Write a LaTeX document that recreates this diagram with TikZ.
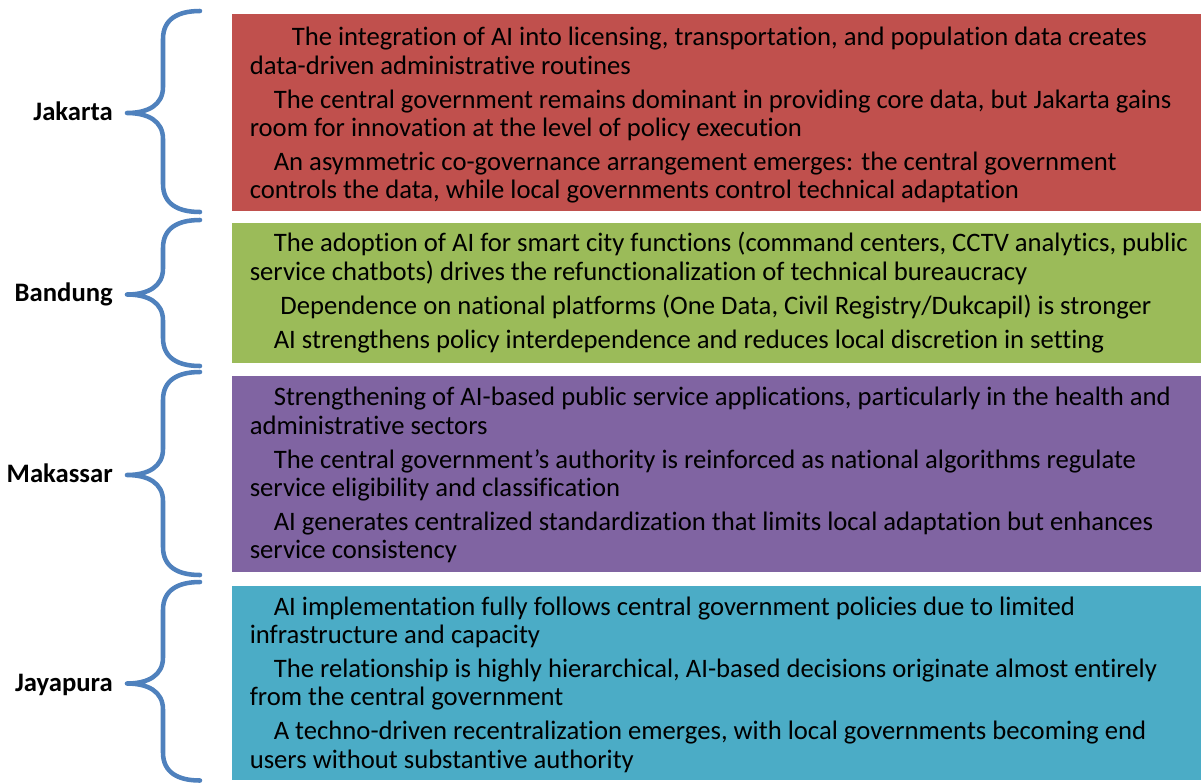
\documentclass[tikz,border=0pt]{standalone}
\usepackage{fontspec}
\setmainfont{Carlito}[Ligatures={NoCommon,NoContextual,NoRequired},Contextuals=NoAlternate]
\begin{document}
\begin{tikzpicture}[x=0.75pt,y=0.75pt,yscale=-1,xscale=1,
    bracket/.style={color={rgb, 255:red, 79; green, 129; blue, 189}, line width=3.4pt, line cap=round, line join=round},
    cityname/.style={anchor=base east, inner sep=0pt, font=\fontsize{20}{24}\selectfont\bfseries},
    points/.style={anchor=north west, inner sep=0pt, align=left, font=\fontsize{20}{21.2}\selectfont}]
    \useasboundingbox (0,0) rectangle (1201,782);
    % coloured panels
    \fill [fill={rgb, 255:red, 192; green, 80; blue, 77}] (232,14) rectangle (1201,211);
    \fill [fill={rgb, 255:red, 155; green, 187; blue, 89}] (232,223.3) rectangle (1201,362.7);
    \fill [fill={rgb, 255:red, 128; green, 100; blue, 162}] (232,376.3) rectangle (1201,571.7);
    \fill [fill={rgb, 255:red, 75; green, 172; blue, 198}] (232,586) rectangle (1201,780);
    % curly brackets
    \foreach \btop/\bmid/\bbot in {11/113/212, 220/294.5/366, 372/475/575, 582/683.5/780.5}
        \draw [bracket] (200,\btop) .. controls (178,\btop) and (163,\btop+8) .. (163,\btop+28) -- (163,\bmid-26) .. controls (163,\bmid-8) and (148,\bmid) .. (127,\bmid) .. controls (148,\bmid) and (163,\bmid+8) .. (163,\bmid+26) -- (163,\bbot-28) .. controls (163,\bbot-8) and (178,\bbot) .. (200,\bbot);
    % city names
    \node [cityname] (jakarta) at (113,120.5) {Jakarta};
    \node [cityname] (bandung) at (113,301.7) {Bandung};
    \node [cityname] (makassar) at (113,482.7) {Makassar};
    \node [cityname] (jayapura) at (113,691.5) {Jayapura};
    % findings per city
    \node [points] (jakartapts) at (249.5,19) {\rule{0pt}{20pt}\hspace*{31.5pt}The integration of AI into licensing, transportation, and population data creates\\data-driven administrative routines\\[4.3pt]
        \hspace*{18pt}The central government remains dominant in providing core data, but Jakarta gains\\room for innovation at the level of policy execution\\[4.3pt]
        \hspace*{18pt}An asymmetric co-governance arrangement emerges: the central government\\controls the data, while local governments control technical adaptation};
    \node [points] (bandungpts) at (249.5,225) {\rule{0pt}{20pt}\hspace*{18pt}The adoption of AI for smart city functions (command centers, CCTV analytics, public\\service chatbots) drives the refunctionalization of technical bureaucracy\\[4.3pt]
        \hspace*{23pt}Dependence on national platforms (One Data, Civil Registry/Dukcapil) is stronger\\[4.3pt]
        \hspace*{18pt}AI strengthens policy interdependence and reduces local discretion in setting};
    \node [points] (makassarpts) at (249.5,379) {\rule{0pt}{20pt}\hspace*{18pt}Strengthening of AI-based public service applications, particularly in the health and\\administrative sectors\\[4.3pt]
        \hspace*{18pt}The central government’s authority is reinforced as national algorithms regulate\\service eligibility and classification\\[4.3pt]
        \hspace*{18pt}AI generates centralized standardization that limits local adaptation but enhances\\service consistency};
    \node [points] (jayapurapts) at (249.5,588.3) {\rule{0pt}{20pt}\hspace*{18pt}AI implementation fully follows central government policies due to limited\\infrastructure and capacity\\[4.3pt]
        \hspace*{18pt}The relationship is highly hierarchical, AI-based decisions originate almost entirely\\from the central government\\[4.3pt]
        \hspace*{18pt}A techno-driven recentralization emerges, with local governments becoming end\\users without substantive authority};
\end{tikzpicture}
\end{document}
